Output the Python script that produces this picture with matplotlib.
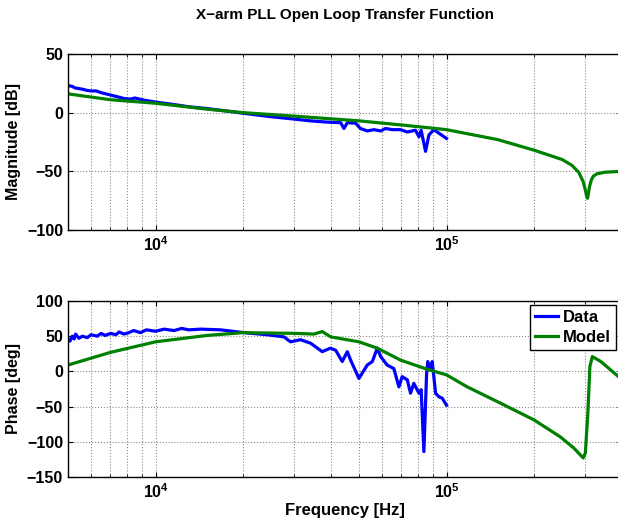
import numpy as np
import matplotlib
matplotlib.use("Agg")
import matplotlib.pyplot as plt
from matplotlib.ticker import LogLocator, NullFormatter

params = {'font.family': 'Liberation Sans',
          'font.weight': 'bold',
          'axes.labelweight': 'bold',
          'axes.titleweight': 'bold',
          'mathtext.default': 'bf',
          'xtick.labelsize': 11.5,
          'ytick.labelsize': 11.5,
          'axes.labelsize': 11.5,
          'legend.fontsize': 12}
plt.rcParams.update(params)

# measured data
data_mag_f = [5000, 5150, 5300, 5450, 5600, 5800, 6000, 6250, 6500, 6750, 7000, 7400,
              7800, 8200, 8500, 8800, 9200, 10000, 11500, 13000,
              15000, 18000, 20000, 25000, 30000, 34000, 38400, 43300, 44400, 45600, 48700,
              50600, 53400, 56300, 59400, 61700, 65100, 69500, 73300, 78200, 80400, 81800,
              84700, 87000, 90500, 94100, 100000]
data_mag = [23, 22.5, 21, 20.5, 20, 19, 18.5, 18.5, 17, 16, 15, 13.5,
            12, 11.5, 12.5, 11.5, 10.5, 9, 7, 5,
            3.5, 1, -0.5, -3.5, -5.5, -7, -8, -8.6, -13.5, -8.6, -9,
            -13.5, -15.6, -14.5, -15.6, -13.5, -14.5, -14.5, -16.5, -15, -20.6, -15,
            -33, -19, -14.5, -17.5, -22]

data_ph_f = [5000, 5080, 5174, 5250, 5311, 5453, 5600, 5825, 6000, 6305, 6500, 6700,
             7004, 7300, 7500, 7785, 8100, 8400, 8882, 9300, 10000, 10700, 11560, 12300,
             13000, 14280, 16720, 20130, 24210, 27610, 29110, 31490, 34100, 37400, 39900,
             41600, 43800, 45600, 46800, 50000, 53400, 55600, 57800, 59400, 62500, 65900,
             68600, 70400, 73300, 75200, 77200, 80400, 81800, 83600, 85400, 86200, 88100,
             89300, 91700, 94100, 96600, 100000]
data_ph = [46, 43, 50, 46, 53, 47, 50, 48, 52, 50, 54, 51,
           54, 52, 56, 53, 55, 58, 55, 59, 57, 60, 58, 61,
           59, 60, 59, 55, 52, 49, 42, 45, 40, 28, 33,
           30, 14, 28, 16, -10, 9, 14, 33, 21, 9, 4,
           -22, -7.5, -12, -31, -17, -31, -26, -114, -3, 14, 2,
           14, -31, -36, -38, -48]

# model
model_mag_f = [5000, 7000, 10000, 15000, 20000, 30000, 50000, 70000, 100000, 150000,
               200000, 250000, 270000, 285000, 295000, 300000, 303000, 305000, 307000,
               310000, 315000, 320000, 330000, 350000, 400000]
model_mag = [16, 11, 8, 3, 0, -3, -7, -10.5, -14.5, -23,
             -32, -40, -45, -51, -59, -66, -71, -73, -70,
             -63, -57, -54, -52, -50.8, -50]

model_ph_f = [5000, 7000, 10000, 15000, 20000, 30000, 35000, 37400, 40000, 50000, 57800,
              69500, 85800, 100000, 117800, 153000, 200000, 246000, 274000, 295000,
              300000, 306000, 311000, 317000, 339000, 390000, 400000]
model_ph = [9, 27, 42, 51, 55, 54, 53, 56.5, 49, 42, 33,
            16, 3, -5, -22, -45, -69, -93, -109, -123,
            -116, -59, 7, 21, 14, -7.5, -10]

fig = plt.figure(figsize=(6.18, 5.27), dpi=100)
ax1 = fig.add_axes([0.110, 0.5636, 0.896, 0.334])
ax2 = fig.add_axes([0.110, 0.0949, 0.896, 0.334])

green = (0, 0.5, 0)
ax1.semilogx(data_mag_f, data_mag, color='b', lw=2.3, label='Data')
ax1.semilogx(model_mag_f, model_mag, color=green, lw=2.3, label='Model')
ax2.semilogx(data_ph_f, data_ph, color='b', lw=2.3, label='Data')
ax2.semilogx(model_ph_f, model_ph, color=green, lw=2.3, label='Model')

for ax in (ax1, ax2):
    ax.set_xlim(5000, 4e5)
    ax.xaxis.set_major_locator(LogLocator(base=10))
    ax.xaxis.set_minor_locator(LogLocator(base=10, subs=np.arange(2, 10)))
    ax.xaxis.set_minor_formatter(NullFormatter())
    ax.grid(True, which='major', linestyle=':', color='0.55', lw=0.8)
    ax.grid(True, which='minor', axis='x', linestyle=':', color='0.55', lw=0.8)
    ax.tick_params(which='both', direction='in', top=True, right=True)
    for s in ax.spines.values():
        s.set_linewidth(1.0)

ax1.set_ylim(-100, 50)
ax1.set_yticks([-100, -50, 0, 50])
ax1.set_yticklabels(['\u2212100', '\u221250', '0', '50'])
ax1.set_ylabel('Magnitude [dB]')
ax1.set_title('X\u2212arm PLL Open Loop Transfer Function', fontsize=11, pad=25)

ax2.set_ylim(-150, 100)
ax2.set_yticks([-150, -100, -50, 0, 50, 100])
ax2.set_yticklabels(['\u2212150', '\u2212100', '\u221250', '0', '50', '100'])
ax2.set_ylabel('Phase [deg]')
ax2.set_xlabel('Frequency [Hz]', labelpad=2, fontsize=12)
ax2.legend(loc='upper right', bbox_to_anchor=(0.9895, 0.977), borderaxespad=0,
           fancybox=False, edgecolor='k', framealpha=1, handlelength=1.4,
           handletextpad=0.3, borderpad=0.3, labelspacing=0.3)

fig.savefig('out.png', dpi=100)
